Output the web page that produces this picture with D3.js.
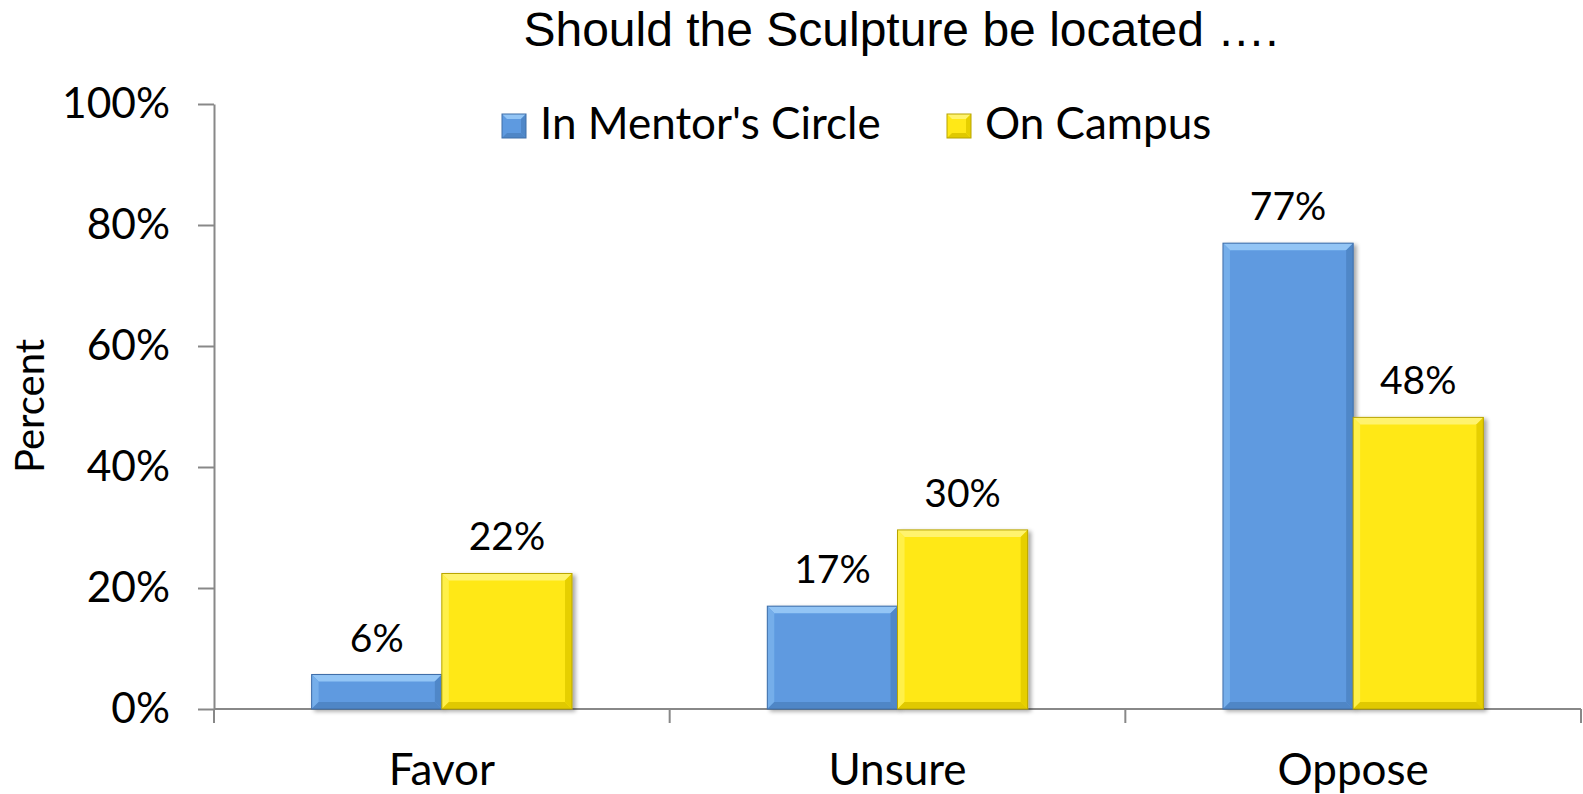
<!DOCTYPE html>
<html><head><meta charset="utf-8">
<script src="https://cdn.jsdelivr.net/npm/d3@7/dist/d3.min.js"></script>
<style>
html,body{margin:0;padding:0;background:#fff;}
svg{display:block;}
</style></head>
<body>
<svg id="chart" width="1583" height="794"></svg>
<script>
const categories = ["Favor", "Unsure", "Oppose"];
const seriesNames = ["In Mentor's Circle", "On Campus"];
const mentorsCircle = [0.057, 0.17, 0.77];
const onCampus = [0.224, 0.296, 0.482];
const yTicks = [0, 0.2, 0.4, 0.6, 0.8, 1.0];
const titleText = "Should the Sculpture be located \u2026.";
const yTitle = "Percent";

const colors = [
  {base:"#5e9ae0", top:"#93c5f5", left:"#74aeea", right:"#4f87c8", bottom:"#4f86c6", line:"#3f6ea8"},
  {base:"#ffe817", top:"#fff36e", left:"#fff04a", right:"#e6cf00", bottom:"#e0c900", line:"#b8a400"}
];

const svg = d3.select("#chart");
const pL = 214, pR = 1581, pT = 104, pB = 709;
const font = "Lato, 'Open Sans', sans-serif";

const x0 = d3.scaleBand().domain(categories).range([pL, pR]).paddingInner(0).paddingOuter(0);
const x1 = d3.scaleBand().domain(seriesNames).range([0, x0.bandwidth()]).paddingInner(0).paddingOuter(0.75);
const y = d3.scaleLinear().domain([0, 1]).range([pB, pT]);

// defs: shadow
const defs = svg.append("defs");
const f = defs.append("filter").attr("id","sh").attr("x","-10%").attr("y","-10%").attr("width","130%").attr("height","130%");
f.append("feGaussianBlur").attr("in","SourceAlpha").attr("stdDeviation",2);
f.append("feOffset").attr("dx",3).attr("dy",2).attr("result","o");
f.append("feComponentTransfer").append("feFuncA").attr("type","linear").attr("slope",0.35);
const m = f.append("feMerge"); m.append("feMergeNode"); m.append("feMergeNode").attr("in","SourceGraphic");

// title
svg.append("text").attr("x", 901).attr("y", 46)
  .attr("text-anchor","middle")
  .style("font-family","'Liberation Sans',Arial,sans-serif")
  .style("font-size","48px").attr("fill","#000").text(titleText);

// y axis
const yAxis = d3.axisLeft(y).tickValues(yTicks).tickFormat(d3.format(".0%")).tickSize(16).tickSizeOuter(0).tickPadding(28);
const gy = svg.append("g").attr("transform",`translate(${pL},0)`).call(yAxis);
gy.select(".domain").attr("stroke","#888").attr("stroke-width",2);
gy.selectAll(".tick line").attr("stroke","#888").attr("stroke-width",2);
gy.selectAll(".tick text").style("font-family",font).style("font-size","42.5px").attr("fill","#000");

// x axis
const gx = svg.append("g").attr("transform",`translate(0,${pB})`);
gx.append("line").attr("x1",pL).attr("x2",pR).attr("y1",0).attr("y2",0).attr("stroke","#888").attr("stroke-width",2);
const bounds = categories.map(c => x0(c)).concat([x0(categories[categories.length-1]) + x0.bandwidth()]);
gx.selectAll("line.tk").data(bounds).join("line").attr("class","tk")
  .attr("x1",d=>d).attr("x2",d=>d).attr("y1",0).attr("y2",14).attr("stroke","#888").attr("stroke-width",2);
gx.selectAll("text").data(categories).join("text")
  .attr("x",d=>x0(d)+x0.bandwidth()/2).attr("y",76)
  .attr("text-anchor","middle").style("font-family",font).style("font-size","44px").text(d=>d);

// y title
svg.append("text").attr("transform","translate(44,406) rotate(-90)")
  .attr("text-anchor","middle").style("font-family",font).style("font-size","40px").text(yTitle);

// bars
const data = categories.map((c,i)=>({cat:c, vals:[mentorsCircle[i], onCampus[i]]}));
const bw = x1.bandwidth();
const bev = 7;
data.forEach(d=>{
  d.vals.forEach((v,si)=>{
    const s = seriesNames[si];
    const bx = x0(d.cat) + x1(s);
    const by = y(v), bh = y(0) - y(v);
    const c = colors[si];
    const g = svg.append("g").attr("filter","url(#sh)");
    const b = Math.min(bev, bh/2);
    g.append("rect").attr("x",bx).attr("y",by).attr("width",bw).attr("height",bh).attr("fill",c.base);
    const x2 = bx+bw, y2 = by+bh;
    g.append("polygon").attr("points",`${bx},${by} ${x2},${by} ${x2-b},${by+b} ${bx+b},${by+b}`).attr("fill",c.top);
    g.append("polygon").attr("points",`${bx},${by} ${bx+b},${by+b} ${bx+b},${y2-b} ${bx},${y2}`).attr("fill",c.left);
    g.append("polygon").attr("points",`${x2},${by} ${x2},${y2} ${x2-b},${y2-b} ${x2-b},${by+b}`).attr("fill",c.right);
    g.append("polygon").attr("points",`${bx},${y2} ${x2},${y2} ${x2-b},${y2-b} ${bx+b},${y2-b}`).attr("fill",c.bottom);
    g.append("rect").attr("x",bx).attr("y",by).attr("width",bw).attr("height",bh).attr("fill","none").attr("stroke",c.line).attr("stroke-width",1);
    svg.append("text").attr("x",bx+bw/2).attr("y",by-23)
      .attr("text-anchor","middle").style("font-family",font).style("font-size","39px")
      .text(d3.format(".0%")(v));
  });
});

// legend
const legX = [502, 947];
seriesNames.forEach((s,i)=>{
  const c = colors[i];
  const lx = legX[i], ly = 114, sz = 24, b = 5;
  const g = svg.append("g");
  g.append("rect").attr("x",lx).attr("y",ly).attr("width",sz).attr("height",sz).attr("fill",c.base);
  g.append("polygon").attr("points",`${lx},${ly} ${lx+sz},${ly} ${lx+sz-b},${ly+b} ${lx+b},${ly+b}`).attr("fill",c.top);
  g.append("polygon").attr("points",`${lx},${ly+sz} ${lx+sz},${ly+sz} ${lx+sz-b},${ly+sz-b} ${lx+b},${ly+sz-b}`).attr("fill",c.bottom);
  g.append("polygon").attr("points",`${lx+sz},${ly} ${lx+sz},${ly+sz} ${lx+sz-b},${ly+sz-b} ${lx+sz-b},${ly+b}`).attr("fill",c.right);
  g.append("rect").attr("x",lx).attr("y",ly).attr("width",sz).attr("height",sz).attr("fill","none").attr("stroke",c.line).attr("stroke-width",1);
  svg.append("text").attr("x",lx+sz+14).attr("y",ly+sz+1).style("font-family",font).style("font-size","44px").text(s);
});
</script>
</body></html>
